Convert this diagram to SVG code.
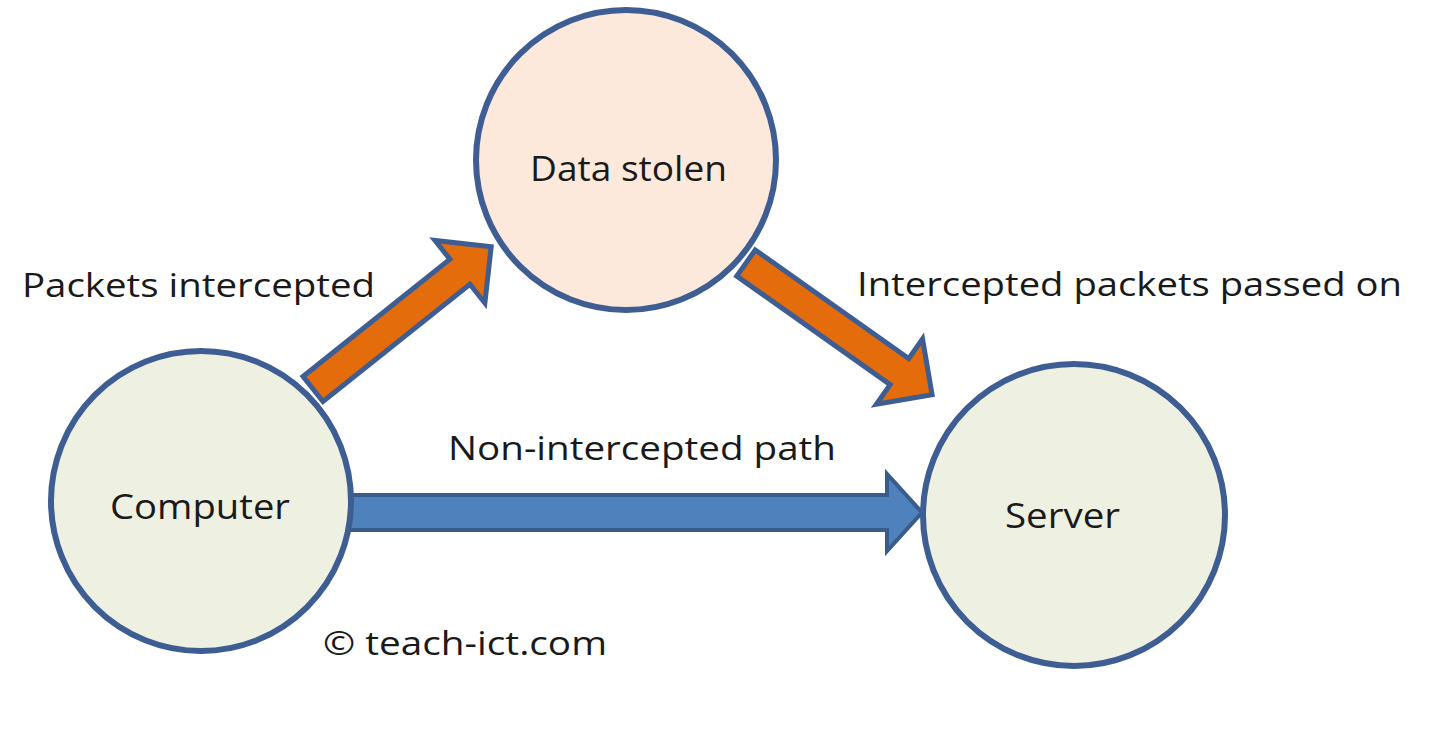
<svg xmlns="http://www.w3.org/2000/svg" width="1440" height="741" viewBox="0 0 1440 741">
  <style>
    .node { stroke: #3E5E93; stroke-width: 6; }
    .green { fill: #EEF0E2; }
    .peach { fill: #FCE9DC; }
    .orange { fill: #E46C0A; stroke: #3E5E93; stroke-width: 5; stroke-linejoin: miter; }
    .blue { fill: #4F81BD; stroke: #385D8A; stroke-width: 4; stroke-linejoin: miter; }
    text { font-family: "Open Sans", "Noto Sans", "Liberation Sans", sans-serif; fill: #1A1A1A; font-size: 33px; }
    .nl { font-size: 35px; }
  </style>
  <defs>
    <polygon id="orangeArrow" points="0,-16 188,-16 188,-40 228,0 188,40 188,16 0,16"/>
  </defs>
  <rect width="1440" height="741" fill="#FFFFFF"/>
  <g id="connectors">
    <g id="edge-computer-datastolen">
      <use href="#orangeArrow" class="orange" transform="translate(313,389) rotate(-38.6)"/>
    </g>
    <g id="edge-datastolen-server">
      <use href="#orangeArrow" class="orange" transform="translate(746,263) rotate(35.3)"/>
    </g>
    <g id="edge-computer-server">
      <polygon class="blue" points="345,495 887,495 887,474 922,512.5 887,551 887,530 345,530"/>
    </g>
  </g>
  <g id="node-datastolen">
    <circle class="node peach" cx="626" cy="160" r="150"/>
    <text class="nl" x="530" y="181" textLength="197" lengthAdjust="spacingAndGlyphs">Data stolen</text>
  </g>
  <g id="node-computer">
    <circle class="node green" cx="201" cy="501" r="150"/>
    <text class="nl" x="110" y="519" textLength="180" lengthAdjust="spacingAndGlyphs">Computer</text>
  </g>
  <g id="node-server">
    <circle class="node green" cx="1074" cy="515" r="151"/>
    <text class="nl" x="1005" y="528" textLength="115" lengthAdjust="spacingAndGlyphs">Server</text>
  </g>
  <g id="labels">
    <text x="22" y="297" textLength="353" lengthAdjust="spacingAndGlyphs">Packets intercepted</text>
    <text x="857" y="296" textLength="545" lengthAdjust="spacingAndGlyphs">Intercepted packets passed on</text>
    <text x="448" y="460" textLength="388" lengthAdjust="spacingAndGlyphs">Non-intercepted path</text>
    <text x="323" y="655" textLength="284" lengthAdjust="spacingAndGlyphs">© teach-ict.com</text>
  </g>
</svg>
